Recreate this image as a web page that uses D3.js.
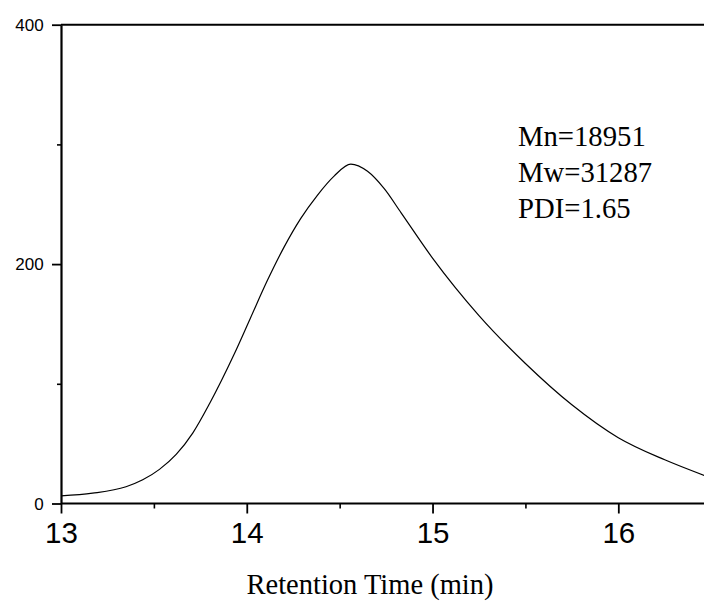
<!DOCTYPE html>
<html>
<head>
<meta charset="utf-8">
<script src="https://cdn.jsdelivr.net/npm/d3@7"></script>
<style>
  html, body { margin: 0; padding: 0; background: #fff; }
  svg { display: block; }
</style>
</head>
<body>
<svg id="chart" width="704" height="601"></svg>
<script>
// GPC trace: retention time (min) vs detector response
const retentionTime = [13.0, 13.17, 13.35, 13.44, 13.53, 13.62, 13.71, 13.80, 13.93, 14.02,
  14.11, 14.20, 14.29, 14.38, 14.47, 14.56, 14.65, 14.74, 14.83, 15.0,
  15.25, 15.5, 15.75, 16.0, 16.25, 16.47];
const response = [6.3, 8.6, 14, 19.8, 28.5, 41, 59, 83.5, 124, 155,
  186, 214, 238, 257.5, 273.5, 283.5, 277.5, 263, 243, 205,
  157, 117, 82.5, 55, 36.5, 23];

const xMajorTicks = [13, 14, 15, 16];
const xMinorTicks = [13.5, 14.5, 15.5, 16.5];
const yMajorTicks = [0, 200, 400];
const yMinorTicks = [100, 300];
const annotations = ["Mn=18951", "Mw=31287", "PDI=1.65"];
const xTitle = "Retention Time (min)";

const svg = d3.select("#chart");

const x = d3.scaleLinear().domain([13, 16.5]).range([61, 61 + 3.5 * 185.77]);
const y = d3.scaleLinear().domain([0, 400]).range([503.5, 24.7]);

const sansFont = "'Liberation Sans', Arial, sans-serif";
const serifFont = "'Liberation Serif', 'Times New Roman', serif";

// Curve
const line = d3.line()
  .x((d, i) => x(retentionTime[i]))
  .y(d => y(d))
  .curve(d3.curveMonotoneX);

svg.append("path")
  .datum(response)
  .attr("d", line)
  .attr("fill", "none")
  .attr("stroke", "#000")
  .attr("stroke-width", 1.2);

// Top frame line
svg.append("line")
  .attr("x1", x(13)).attr("x2", 704)
  .attr("y1", y(400)).attr("y2", y(400))
  .attr("stroke", "#000").attr("stroke-width", 2);

// Minor ticks
svg.append("g")
  .attr("transform", `translate(0,${y(0)})`)
  .call(d3.axisBottom(x).tickValues(xMinorTicks).tickSize(5).tickFormat(""))
  .call(g => g.select(".domain").remove())
  .call(g => g.selectAll("line").attr("stroke-width", 1.6));

svg.append("g")
  .attr("transform", `translate(${x(13)},0)`)
  .call(d3.axisLeft(y).tickValues(yMinorTicks).tickSize(4).tickFormat(""))
  .call(g => g.select(".domain").remove())
  .call(g => g.selectAll("line").attr("stroke-width", 1.6));

// X axis
const xAxis = svg.append("g")
  .attr("transform", `translate(0,${y(0)})`)
  .call(d3.axisBottom(x).tickValues(xMajorTicks).tickSize(10).tickSizeOuter(0).tickFormat(d3.format("d")));
xAxis.select(".domain").attr("stroke-width", 2).attr("d", `M${x(13)},0H710`);
xAxis.selectAll(".tick line").attr("stroke-width", 1.8);
xAxis.selectAll(".tick text")
  .attr("y", 39.5).attr("dy", 0)
  .attr("font-family", sansFont).attr("font-size", 29.5).attr("fill", "#000");

// Y axis
const yAxis = svg.append("g")
  .attr("transform", `translate(${x(13)},0)`)
  .call(d3.axisLeft(y).tickValues(yMajorTicks).tickSize(9).tickSizeOuter(0).tickFormat(d3.format("d")));
yAxis.select(".domain").attr("stroke-width", 2.2);
yAxis.selectAll(".tick line").attr("stroke-width", 1.8);
yAxis.selectAll(".tick text")
  .attr("x", -17.3).attr("dy", "0.33em")
  .attr("font-family", sansFont).attr("font-size", 17).attr("fill", "#000");

// Axis title
svg.append("text")
  .attr("x", 370).attr("y", 594)
  .attr("text-anchor", "middle")
  .attr("font-family", serifFont).attr("font-size", 28.5)
  .text(xTitle);

// Molecular weight annotations
svg.append("g")
  .selectAll("text")
  .data(annotations)
  .join("text")
  .attr("x", 518)
  .attr("y", (d, i) => 145.7 + i * 36.3)
  .attr("font-family", serifFont).attr("font-size", 28.7)
  .text(d => d);
</script>
</body>
</html>
